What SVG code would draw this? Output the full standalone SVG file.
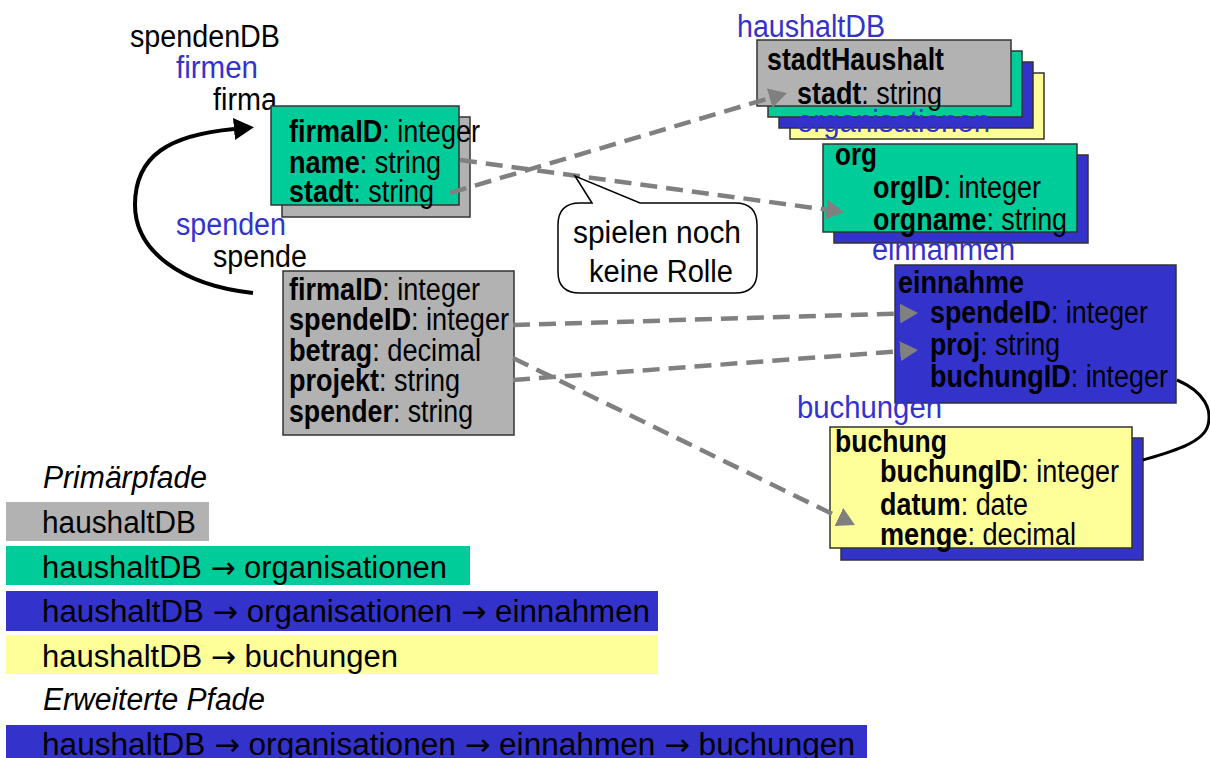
<svg xmlns="http://www.w3.org/2000/svg" width="1210" height="758" viewBox="0 0 1210 758">
<style>
text{font-family:"Liberation Sans Narrow","Arial Narrow","Liberation Sans",Arial,sans-serif;font-size:31px;fill:#000}
.b{font-weight:bold}
.lbl{fill:#3333cc}
.it{font-style:italic}
.ar{font-family:"DejaVu Sans",sans-serif;font-size:30px}
.box{stroke:#333;stroke-width:1.5}
.gr{fill:#b2b2b2}.gn{fill:#00cc99}.bl{fill:#3333cc}.ye{fill:#ffff99}
.dash{fill:none;stroke:#808080;stroke-width:4.5;stroke-dasharray:17 9}
.curve{fill:none;stroke:#000;stroke-width:4}
</style>
<defs>
<marker id="ga" markerUnits="userSpaceOnUse" viewBox="0 0 18 20" markerWidth="18" markerHeight="20" refX="0" refY="10" orient="auto"><path d="M0,0 L18,10 L0,20 Z" fill="#808080"/></marker>
<marker id="ba" markerUnits="userSpaceOnUse" viewBox="0 0 20 22" markerWidth="20" markerHeight="22" refX="0" refY="11" orient="auto"><path d="M0,0 L20,11 L0,22 Z" fill="#000"/></marker>
</defs>
<rect width="1210" height="758" fill="#fff"/>

<g id="spendenDB-labels">
<text x="130" y="47" textLength="150" lengthAdjust="spacingAndGlyphs">spendenDB</text>
<text x="176" y="78" class="lbl" textLength="82" lengthAdjust="spacingAndGlyphs">firmen</text>
<text x="213" y="110" textLength="64" lengthAdjust="spacingAndGlyphs">firma</text>
<text x="176" y="235" class="lbl" textLength="110" lengthAdjust="spacingAndGlyphs">spenden</text>
<text x="213" y="267" textLength="94" lengthAdjust="spacingAndGlyphs">spende</text>
</g>

<g id="firma">
<rect x="282" y="117" width="188" height="100" class="box gr"/>
<rect x="271" y="106" width="188" height="99" class="box gn"/>
<text x="289" y="142" textLength="191" lengthAdjust="spacingAndGlyphs"><tspan class="b">firmaID</tspan>: integer</text>
<text x="289" y="173" textLength="152" lengthAdjust="spacingAndGlyphs"><tspan class="b">name</tspan>: string</text>
<text x="289" y="202" textLength="145" lengthAdjust="spacingAndGlyphs"><tspan class="b">stadt</tspan>: string</text>
</g>

<g id="spende">
<rect x="283" y="271" width="231" height="164" class="box gr"/>
<text x="289" y="300" textLength="191" lengthAdjust="spacingAndGlyphs"><tspan class="b">firmaID</tspan>: integer</text>
<text x="289" y="330" textLength="220" lengthAdjust="spacingAndGlyphs"><tspan class="b">spendeID</tspan>: integer</text>
<text x="289" y="361" textLength="192" lengthAdjust="spacingAndGlyphs"><tspan class="b">betrag</tspan>: decimal</text>
<text x="289" y="391" textLength="171" lengthAdjust="spacingAndGlyphs"><tspan class="b">projekt</tspan>: string</text>
<text x="289" y="422" textLength="184" lengthAdjust="spacingAndGlyphs"><tspan class="b">spender</tspan>: string</text>
</g>

<g id="stadtHaushalt">
<text x="737" y="37" class="lbl" textLength="148" lengthAdjust="spacingAndGlyphs">haushaltDB</text>
<rect x="790" y="73" width="254" height="66" class="box ye"/>
<rect x="779" y="62" width="254" height="66" class="box bl"/>
<rect x="768" y="51" width="254" height="66" class="box gn"/>
<text x="797" y="132" class="lbl" textLength="193" lengthAdjust="spacingAndGlyphs">organisationen</text>
<rect x="757" y="40" width="254" height="66" class="box gr"/>
<text x="767" y="70" textLength="177" lengthAdjust="spacingAndGlyphs"><tspan class="b">stadtHaushalt</tspan></text>
<text x="797" y="104" textLength="145" lengthAdjust="spacingAndGlyphs"><tspan class="b">stadt</tspan>: string</text>
</g>

<g id="org">
<rect x="834" y="155" width="254" height="88" class="box bl"/>
<rect x="823" y="144" width="254" height="88" class="box gn"/>
<text x="835" y="165" textLength="42" lengthAdjust="spacingAndGlyphs"><tspan class="b">org</tspan></text>
<text x="873" y="198" textLength="168" lengthAdjust="spacingAndGlyphs"><tspan class="b">orgID</tspan>: integer</text>
<text x="873" y="230" textLength="194" lengthAdjust="spacingAndGlyphs"><tspan class="b">orgname</tspan>: string</text>
</g>

<g id="einnahme">
<text x="872" y="260" class="lbl" textLength="143" lengthAdjust="spacingAndGlyphs">einnahmen</text>
<rect x="895" y="265" width="281" height="138" class="box bl"/>
<text x="898" y="293" textLength="126" lengthAdjust="spacingAndGlyphs"><tspan class="b">einnahme</tspan></text>
<text x="930" y="323" textLength="218" lengthAdjust="spacingAndGlyphs"><tspan class="b">spendeID</tspan>: integer</text>
<text x="930" y="355" textLength="130" lengthAdjust="spacingAndGlyphs"><tspan class="b">proj</tspan>: string</text>
<text x="930" y="387" textLength="238" lengthAdjust="spacingAndGlyphs"><tspan class="b">buchungID</tspan>: integer</text>
</g>

<g id="buchung">
<text x="797" y="418" class="lbl" textLength="145" lengthAdjust="spacingAndGlyphs">buchungen</text>
<rect x="841" y="438" width="302" height="122" class="box bl"/>
<rect x="830" y="427" width="302" height="121" class="box ye"/>
<text x="835" y="452" textLength="112" lengthAdjust="spacingAndGlyphs"><tspan class="b">buchung</tspan></text>
<text x="880" y="482" textLength="239" lengthAdjust="spacingAndGlyphs"><tspan class="b">buchungID</tspan>: integer</text>
<text x="880" y="515" textLength="148" lengthAdjust="spacingAndGlyphs"><tspan class="b">datum</tspan>: date</text>
<text x="880" y="545" textLength="196" lengthAdjust="spacingAndGlyphs"><tspan class="b">menge</tspan>: decimal</text>
</g>

<g id="connectors">
<path class="curve" d="M253,293 C180,285 135,250 135,205 C135,155 170,135 234,129" marker-end="url(#ba)"/>
<path d="M1177,380 C1205,392 1212,410 1208,425 C1204,443 1170,452 1143,460" fill="none" stroke="#000" stroke-width="3"/>
<line class="dash" x1="450" y1="193" x2="769.7" y2="98.1" marker-end="url(#ga)"/>
<line class="dash" x1="460" y1="160" x2="826.2" y2="209.6" marker-end="url(#ga)"/>
<line class="dash" x1="513" y1="325" x2="900" y2="313.5" marker-end="url(#ga)"/>
<line class="dash" x1="513" y1="380" x2="900.1" y2="351.3" marker-end="url(#ga)"/>
<line class="dash" x1="513" y1="358" x2="838.8" y2="517.1" marker-end="url(#ga)"/>
</g>

<g id="note">
<path d="M592,203 L575,176 L640,203 L735,203 Q757,203 757,225 L757,272 Q757,293 735,293 L580,293 Q558,293 558,272 L558,225 Q558,203 580,203 Z" fill="#fff" stroke="#000" stroke-width="1.5"/>
<text x="573" y="243" textLength="168" lengthAdjust="spacingAndGlyphs">spielen noch</text>
<text x="589" y="282" textLength="144" lengthAdjust="spacingAndGlyphs">keine Rolle</text>
</g>

<g id="legend">
<text x="43" y="488" class="it" textLength="164" lengthAdjust="spacingAndGlyphs">Primärpfade</text>
<rect x="6" y="502" width="203" height="39" class="gr"/>
<text x="42" y="533" textLength="154" lengthAdjust="spacingAndGlyphs">haushaltDB</text>
<rect x="6" y="546" width="464" height="39" class="gn"/>
<text x="42" y="578" textLength="405" lengthAdjust="spacingAndGlyphs">haushaltDB <tspan class="ar">→</tspan> organisationen</text>
<rect x="6" y="591" width="652" height="40" class="bl"/>
<text x="42" y="622" textLength="608" lengthAdjust="spacingAndGlyphs">haushaltDB <tspan class="ar">→</tspan> organisationen <tspan class="ar">→</tspan> einnahmen</text>
<rect x="6" y="635" width="652" height="39" class="ye"/>
<text x="42" y="667" textLength="356" lengthAdjust="spacingAndGlyphs">haushaltDB <tspan class="ar">→</tspan> buchungen</text>
<text x="43" y="710" class="it" textLength="222" lengthAdjust="spacingAndGlyphs">Erweiterte Pfade</text>
<rect x="6" y="725" width="861" height="33" class="bl"/>
<text x="42" y="755" textLength="813" lengthAdjust="spacingAndGlyphs">haushaltDB <tspan class="ar">→</tspan> organisationen <tspan class="ar">→</tspan> einnahmen <tspan class="ar">→</tspan> buchungen</text>
</g>
</svg>
